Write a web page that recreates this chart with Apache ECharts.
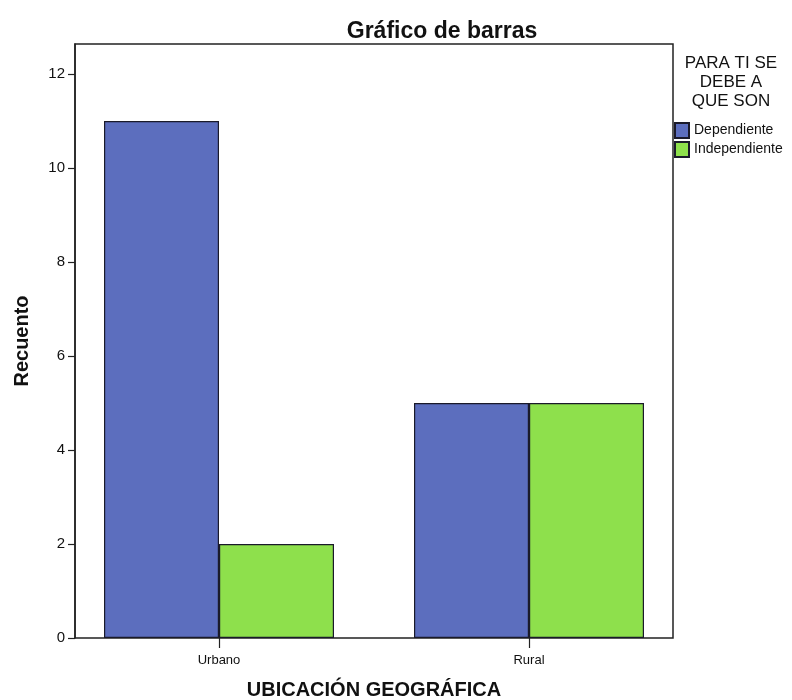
<!DOCTYPE html>
<html>
<head>
<meta charset="utf-8">
<script src="https://cdn.jsdelivr.net/npm/echarts@6/dist/echarts.min.js"></script>
<style>html,body{margin:0;padding:0;background:#fff}#c{width:792px;height:700px}</style>
</head>
<body>
<div id="c"></div>
<script>
const categories = ['Urbano', 'Rural'];
const dependiente = [11, 5];
const independiente = [2, 5];
const seriesNames = ['Dependiente', 'Independiente'];
const yTicks = [0, 2, 4, 6, 8, 10, 12];
const legendTitle = 'PARA TI SE\nDEBE A\nQUE SON';

const chart = echarts.init(document.getElementById('c'));
const yMax = 12.64;
const F = '"Liberation Sans", Arial, sans-serif';
chart.setOption({
  animation: false,
  backgroundColor: '#fff',
  title: {
    text: 'Gráfico de barras', left: 437, top: 15, textAlign: 'center',
    textStyle: { fontFamily: F, fontWeight: 'bold', fontSize: 23, color: '#111' }
  },
  grid: [
    { left: 75, top: 44, right: 119, bottom: 62, show: true, borderColor: '#222', borderWidth: 1.5, backgroundColor: 'transparent', outerBoundsMode: 'none', containLabel: false },
    { left: 64, top: 44, width: 620, bottom: 62, outerBoundsMode: 'none', containLabel: false }
  ],
  xAxis: [
    { gridIndex: 0, type: 'value', min: 0, max: 1, show: false },
    {
      gridIndex: 1, type: 'category', data: categories,
      axisLine: { show: false },
      axisTick: { show: true, alignWithLabel: true, length: 10, lineStyle: { color: '#222', width: 1.2 } },
      axisLabel: { fontFamily: F, fontSize: 13, color: '#111', margin: 16 },
      name: 'UBICACIÓN GEOGRÁFICA', nameLocation: 'middle', nameGap: 42,
      nameTextStyle: { fontFamily: F, fontWeight: 'bold', fontSize: 20, color: '#111' }
    }
  ],
  yAxis: [
    {
      gridIndex: 0, type: 'value', min: 0, max: yMax,
      axisLine: { show: true, lineStyle: { color: '#222', width: 1.5 } },
      axisTick: { show: true, length: 7, customValues: yTicks, lineStyle: { color: '#222', width: 1.2 } },
      axisLabel: { customValues: yTicks, fontFamily: F, fontSize: 15, color: '#111', margin: 10 },
      splitLine: { show: false },
      name: 'Recuento', nameLocation: 'middle', nameGap: 43, nameRotate: 90,
      nameTextStyle: { fontFamily: F, fontWeight: 'bold', fontSize: 20, color: '#111' }
    },
    { gridIndex: 1, type: 'value', min: 0, max: yMax, show: false }
  ],
  legend: {
    orient: 'vertical', left: 674, top: 122, padding: 0, itemWidth: 14, itemHeight: 15, itemGap: 2,
    icon: 'rect',
    data: seriesNames,
    textStyle: { fontFamily: F, fontSize: 14, color: '#111' }
  },
  graphic: [{
    type: 'text', x: 731, y: 54,
    style: { text: legendTitle, align: 'center', verticalAlign: 'top', font: '17px ' + F, fill: '#111', lineHeight: 19 }
  }],
  series: [
    {
      name: seriesNames[0], type: 'bar', xAxisIndex: 1, yAxisIndex: 1, data: dependiente,
      barWidth: 115, barGap: '0%',
      itemStyle: { color: '#5c6ebe', borderColor: '#1a1a2a', borderWidth: 1.2 }
    },
    {
      name: seriesNames[1], type: 'bar', xAxisIndex: 1, yAxisIndex: 1, data: independiente,
      barWidth: 115, barGap: '0%',
      itemStyle: { color: '#8ee04c', borderColor: '#1a1a2a', borderWidth: 1.2 }
    }
  ]
});
</script>
</body>
</html>
